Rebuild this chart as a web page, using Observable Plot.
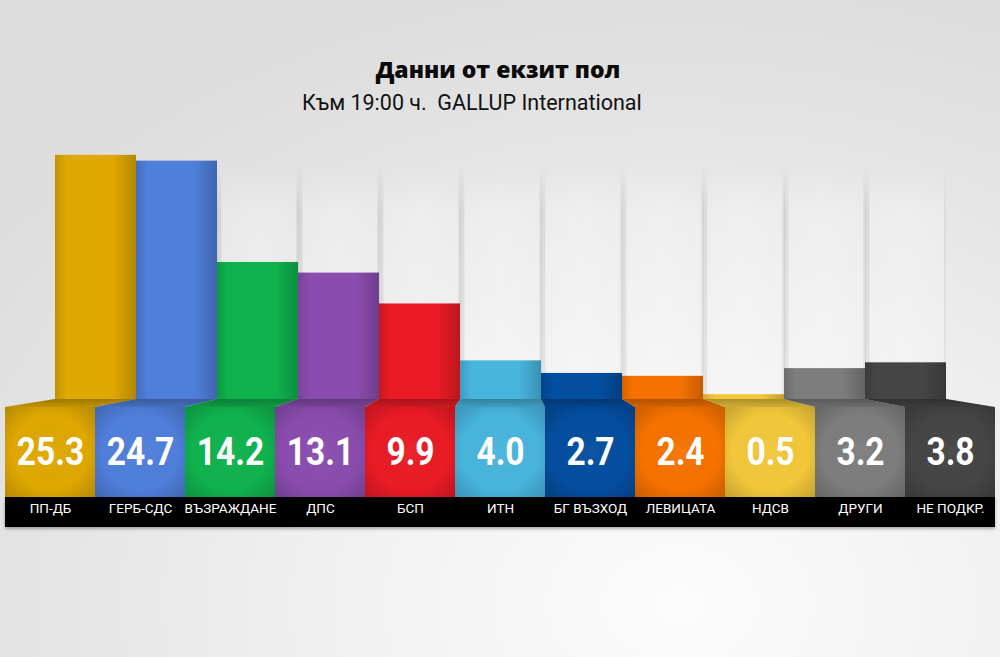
<!DOCTYPE html>
<html>
<head>
<meta charset="utf-8">
<script src="https://cdn.jsdelivr.net/npm/d3@7"></script>
<script src="https://cdn.jsdelivr.net/npm/@observablehq/plot@0.6"></script>
<style>
html, body { margin: 0; padding: 0; }
#wrap {
  position: relative; width: 1000px; height: 657px; overflow: hidden;
  background: radial-gradient(ellipse 85% 95% at 68% 92%, #fcfcfc 0%, #f1f1f1 40%, #e3e3e3 80%, #dddddd 100%);
}
#title {
  position: absolute; left: 0; width: 996px; top: 58px; text-align: center;
  font-family: "Open Sans", "DejaVu Sans", sans-serif; font-weight: 800; font-size: 23px;
  line-height: 1; color: #0a0a0a;
}
#subtitle {
  position: absolute; left: 302px; top: 92px;
  font-family: Roboto, "Noto Sans", sans-serif; font-size: 21.5px; line-height: 1;
  white-space: pre; color: #111;
}
#band {
  position: absolute; left: 5px; top: 497px; width: 990px; height: 30px;
  background: #000; box-shadow: 0 2px 3px rgba(0,0,0,0.3);
}
.layer { position: absolute; left: 0; top: 0; }
</style>
</head>
<body>
<div id="wrap">
  <div id="title">Данни от екзит пол</div>
  <div id="subtitle">Към 19:00 ч.  GALLUP International</div>
  <div id="back" class="layer"></div>
  <div id="band"></div>
  <div id="front" class="layer"></div>
</div>
<script>
// ---- data ----
const parties = ["ПП-ДБ", "ГЕРБ-СДС", "ВЪЗРАЖДАНЕ", "ДПС", "БСП", "ИТН", "БГ ВЪЗХОД", "ЛЕВИЦАТА", "НДСВ", "ДРУГИ", "НЕ ПОДКР."];
const values  = [25.3, 24.7, 14.2, 13.1, 9.9, 4.0, 2.7, 2.4, 0.5, 3.2, 3.8];
const colors  = ["#dfa800", "#4f7fdb", "#10b24e", "#8a4daf", "#ea1b25", "#48b5dd", "#044ea0", "#f67200", "#f2c73a", "#7d7d7d", "#454545"];
const ghostValue = 24.2; // height of the pale backdrop columns (data units)

const data = parties.map((p, i) => ({party: p, value: values[i], color: colors[i]}));
const ghosts = parties.map(p => ({party: p, value: ghostValue}));

const W = 1000, H = 530;
const baseY = 399, boxTop = 407, boxBottom = 497;
const yMax = 26, pxPerUnit = 9.65;
const VALUE_SIZE = 39;

const backChart = Plot.plot({
  width: W, height: H,
  marginLeft: 55, marginRight: 54,
  marginTop: baseY - yMax * pxPerUnit, marginBottom: H - baseY,
  x: {domain: parties, padding: 0, axis: null},
  y: {domain: [0, yMax], axis: null},
  color: {type: "identity"},
  style: {background: "transparent", overflow: "visible"},
  marks: [
    Plot.barY(ghosts, {x: "party", y: "value", fill: "url(#ghostGrad)"}),
    Plot.barY(data, {x: "party", y: "value", fill: "color"}),
    Plot.barY(data, {x: "party", y: "value", fill: "url(#barShade)"})
  ]
});

const frontChart = Plot.plot({
  width: W, height: H,
  marginLeft: 5, marginRight: 5,
  marginTop: boxTop, marginBottom: H - boxBottom,
  x: {domain: parties, padding: 0, axis: null},
  color: {type: "identity"},
  style: {background: "transparent", overflow: "visible"},
  marks: [
    Plot.cell(data, {x: "party", fill: "color"}),
    Plot.cell(data, {x: "party", fill: "url(#boxShade)"}),
    Plot.text(data, {
      x: "party", text: d => d.value.toFixed(1), frameAnchor: "middle",
      fill: "white", fontSize: VALUE_SIZE, fontWeight: "bold",
      fontFamily: "Roboto, sans-serif"
    }),
    Plot.text(data, {
      x: "party", text: "party", frameAnchor: "bottom", dy: 15,
      fill: "white", fontSize: 13.5, fontFamily: "Roboto, 'Noto Sans', sans-serif"
    })
  ]
});

// ---- gradient definitions ----
const svgA = d3.select(backChart);
const defs = svgA.insert("defs", ":first-child");
function lin(id, stops, vertical) {
  const g = defs.append("linearGradient").attr("id", id)
    .attr("x1", 0).attr("y1", 0).attr("x2", vertical ? 0 : 1).attr("y2", vertical ? 1 : 0);
  stops.forEach(([o, c, a]) => g.append("stop").attr("offset", o).attr("stop-color", c).attr("stop-opacity", a));
}
lin("ghostGrad", [[0, "#000", 0.13], [0.025, "#000", 0.04], [0.06, "#fff", 0.22], [0.5, "#fff", 0.3], [0.97, "#fff", 0.2], [1, "#000", 0.03]]);
lin("barShade", [[0, "#000", 0.14], [0.14, "#000", 0], [0.72, "#000", 0], [1, "#000", 0.2]]);
lin("fadeV", [[0, "#000", 1], [0.2, "#fff", 1], [1, "#fff", 1]], true);
lin("pedShade", [[0, "#000", 0.22], [1, "#000", 0.05]], true);
const rg = defs.append("radialGradient").attr("id", "boxShade").attr("cx", 0.5).attr("cy", 0.5).attr("r", 0.75);
[[0, "#fff", 0.05], [0.55, "#000", 0], [1, "#000", 0.22]].forEach(([o, c, a]) =>
  rg.append("stop").attr("offset", o).attr("stop-color", c).attr("stop-opacity", a));
const mask = defs.append("mask").attr("id", "ghostFade")
  .attr("maskUnits", "objectBoundingBox").attr("maskContentUnits", "objectBoundingBox")
  .attr("x", 0).attr("y", 0).attr("width", 1).attr("height", 1);
mask.append("rect").attr("x", 0).attr("y", 0).attr("width", 1).attr("height", 1).attr("fill", "url(#fadeV)");
svgA.selectAll("g").filter(function () {
  return this.getAttribute("fill") === "url(#ghostGrad)";
}).attr("mask", "url(#ghostFade)");

// ---- pedestals joining back bars to front boxes (from both x scales) ----
const xa = backChart.scale("x"), xb = frontChart.scale("x"), ya = backChart.scale("y");
const y0 = ya.apply(0);
const ped = svgA.append("g");
const pts = d => {
  const a = xa.apply(d.party), b = xb.apply(d.party);
  return [[a, y0], [a + xa.bandwidth, y0], [b + xb.bandwidth, boxTop], [b, boxTop]].join(" ");
};
ped.selectAll("polygon.p").data(data).join("polygon").attr("class", "p")
  .attr("points", pts).attr("fill", d => d3.color(d.color).darker(0.25).formatHex());
ped.selectAll("polygon.s").data(data).join("polygon").attr("class", "s")
  .attr("points", pts).attr("fill", "url(#pedShade)");

document.getElementById("back").appendChild(backChart);
document.getElementById("front").appendChild(frontChart);

// narrow the value numerals horizontally (condensed look), scaling each about its own centre
d3.select(frontChart).selectAll("text").filter(function () {
  const g = this.parentNode;
  return g && g.getAttribute && +g.getAttribute("font-size") === VALUE_SIZE;
}).each(function () {
  const b = this.getBBox();
  const cx = b.x + b.width / 2;
  const t = this.getAttribute("transform") || "";
  this.setAttribute("transform", `${t} translate(${cx},0) scale(0.86,1) translate(${-cx},0)`);
});
</script>
</body>
</html>
